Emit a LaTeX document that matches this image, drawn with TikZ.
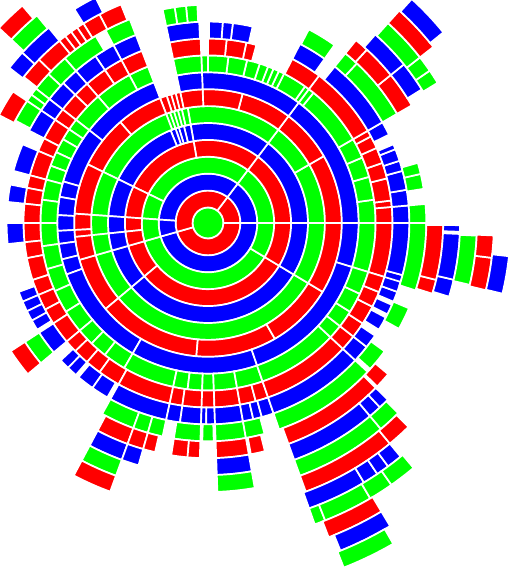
\documentclass[tikz,border=0pt]{standalone}
\definecolor{cg}{RGB}{0,255,0}
\definecolor{cr}{RGB}{255,0,0}
\definecolor{cb}{RGB}{0,0,255}
\newcommand\sg[3]{%
 \pgfmathsetmacro\sgri{15.5+16.9*(#1-1)}%
 \pgfmathsetmacro\sgro{15.5+16.9*#1}%
 \pgfmathtruncatemacro\sgm{mod(#1,3)}%
 \ifcase\sgm\def\sgc{cg}\or\def\sgc{cr}\or\def\sgc{cb}\fi
 \filldraw[fill=\sgc,draw=white,line width=1.7pt] (#2:\sgri pt) arc[start angle=#2,end angle=#3,radius=\sgri pt] -- (#3:\sgro pt) arc[start angle=#3,end angle=#2,radius=\sgro pt] -- cycle;}
\newcommand\chain[2]{\gdef\sgprev{}\foreach \sx in {#2}{\ifx\sgprev\empty\else\sg{#1}{\sgprev}{\sx}\fi\global\let\sgprev\sx}}
\begin{document}
\begin{tikzpicture}
\useasboundingbox (0,0) rectangle (510pt,569pt);
\begin{scope}[shift={(208pt,346pt)}]
\filldraw[fill=cg,draw=white,line width=1.7pt] (0,0) circle[radius=15.5pt];
\chain{1}{-164,0,53,196}
\chain{2}{-164,0,53,176,196}
\chain{3}{-164,-31,0,53,154,176,196}
\chain{4}{-164,-140,-31,0,53,100,154,176,186,196}
\chain{5}{-164,-140,-31,0,53,100,104,107,109,112,154,176,186,196}
\chain{6}{-164,-140,-31,0,30,53,100,103,105,107,109,111,154,176,186,196}
\chain{7}{-164,-140,-95,-60,-31,0,30,53,75,92.3,102,104,106,108,111,131,154,176,183,186,196}
\chain{8}{-17,0,53,92.3,102}
\chain{8}{111,142,164,170,177,183,188,194,200,240,289,343}
\chain{9}{-17,0,8,16,23,30,51,53,54.6,63,65,67,69,72,76.5,83,90,92.3,102}
\chain{9}{111,118,131,142,146,150,155,160,165,172,180,188,196,204,212,220,226,232,240,258,263,268,272,280,289,317,322,328,335,343}
\chain{10}{-17,0,5,7,14,19,24,28,30,53,62.8}
\chain{10}{74.8,78,84.2,90}
\chain{10}{92.3,102}
\chain{10}{111,118,124,131,136,142,146,152.7,157,165,169,174,180,186,191,198,203,208,213,220,224,229,234,241,258,262,268,272,280,285,289,317,322,327,333,338,343}
\chain{11}{-17.5,-15,0,5,9.5,15,18,21.5,23}
\chain{11}{26,30,51}
\chain{11}{54.6,62.8}
\chain{11}{77.2,82.9,85.8,89.7}
\chain{11}{92.5,102}
\chain{11}{111,118,124,131,136,142,146,152.7}
\chain{11}{157,165}
\chain{11}{169,174}
\chain{11}{180,186}
\chain{11}{200,203,206,209,212}
\chain{11}{213,220}
\chain{11}{223,226,229}
\chain{11}{230,235,240}
\chain{11}{241,258,262,268,269.5,272,280,283,285.5,289,317,322,326}
\chain{11}{328,332}
\chain{11}{333,336}
\chain{11}{337,340,343}
\chain{12}{-18,0,5}
\chain{12}{9,13,16}
\chain{12}{30,47,51}
\chain{12}{54.6,62.5}
\chain{12}{92.8,95.8,98.8,102}
\chain{12}{111,118}
\chain{12}{121,131,137,142,144,146,152}
\chain{12}{213,220}
\chain{12}{241,250,254,258}
\chain{12}{261,268}
\chain{12}{268.5,271.5}
\chain{12}{272,280,285}
\chain{12}{289,317}
\chain{12}{318,324}
\chain{12}{331,337}
\chain{13}{-17.5,-14,-0.5}
\chain{13}{30,39,47.5,51}
\chain{13}{111.7,117.5,122,123.8,125.6,127.4,129.2,136,141.6}
\chain{13}{146,152.7}
\chain{13}{213,220}
\chain{13}{242,250,254,257}
\chain{13}{261,265,268}
\chain{13}{272,280}
\chain{13}{280.5,284}
\chain{13}{290,315.5}
\chain{13}{316,320}
\chain{14}{-17,-13,-2.5}
\chain{14}{-2,-0.5}
\chain{14}{32,39,48.4}
\chain{14}{116.5,122}
\chain{14}{129.2,137.5,142}
\chain{14}{242,250,254}
\chain{14}{272,280}
\chain{14}{290,310,313,315.5}
\chain{15}{-13.3,-2.7}
\chain{15}{31.4,34.5,38,48}
\chain{15}{129.5,137}
\chain{15}{242,250}
\chain{15}{272,280}
\chain{15}{290,310,315}
\chain{16}{-13.6,-7,-2.5}
\chain{16}{38,48}
\chain{16}{130.5,137}
\chain{16}{242,250}
\chain{16}{290,309.5,314.5}
\chain{17}{-13.5,-6.3}
\chain{17}{39,47.7}
\chain{17}{289.5,301,304,306.5,309.5}
\chain{18}{289.5,291.5,300.5,305,310}
\chain{19}{291,301}
\chain{20}{292,301}
\chain{21}{291.5,300}
\end{scope}
\end{tikzpicture}
\end{document}
